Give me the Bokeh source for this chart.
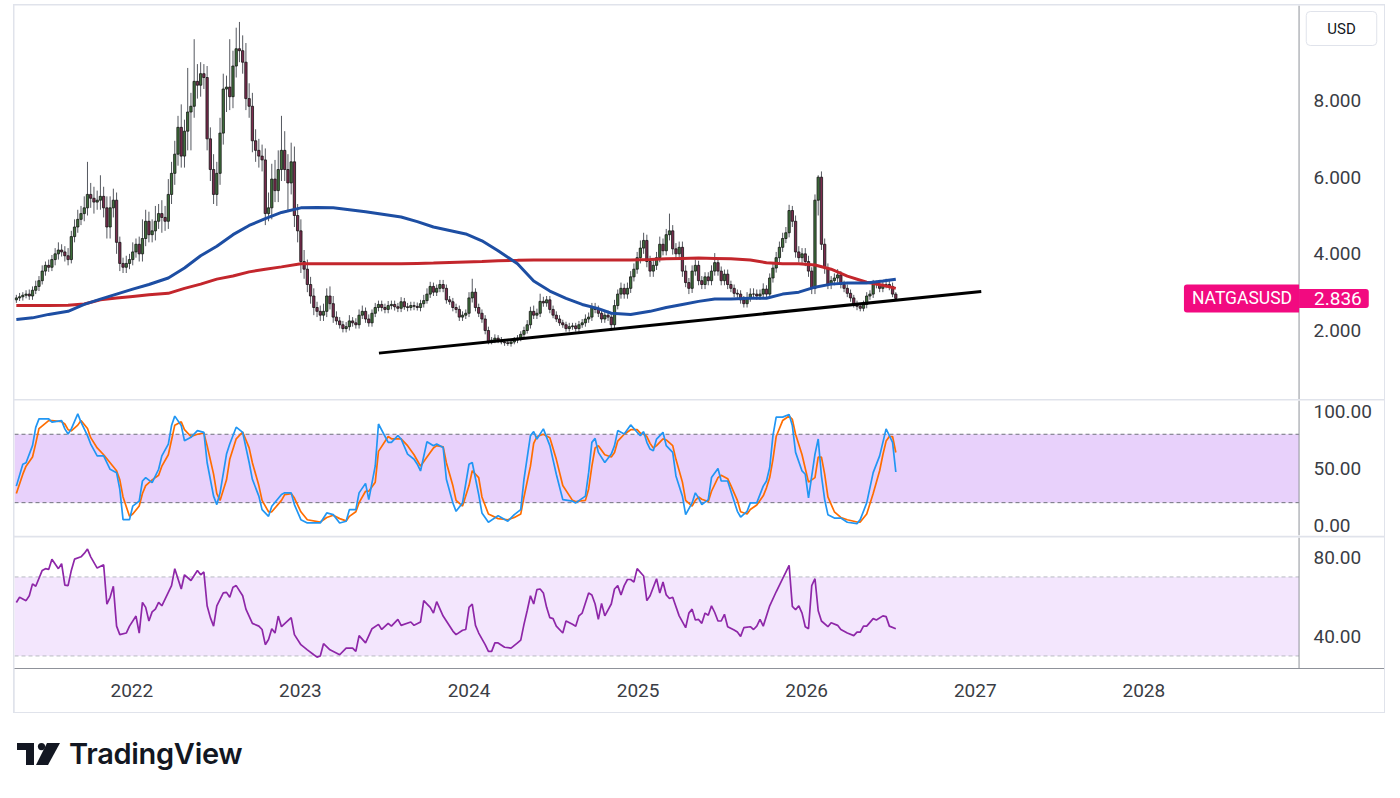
import pandas as pd
from bokeh.plotting import figure
from bokeh.layouts import column
from bokeh.models import (Range1d, FixedTicker, NumeralTickFormatter, DatetimeTickFormatter,
                          Label, Div, ColumnDataSource, BoxAnnotation, Span)
from bokeh.embed import file_html
from bokeh.resources import INLINE

# ---------------- data (weekly bars) ----------------
first_week = "2021-04-26"
first_open = 2.80
close = [
    2.85, 2.88, 2.92, 2.95, 2.90, 3.05, 3.15, 3.30, 3.55, 3.70,
    3.65, 3.85, 4.00, 4.10, 4.05, 3.95, 3.85, 4.45, 4.70, 4.90,
    5.05, 5.20, 5.55, 5.45, 5.35, 5.40, 5.50, 5.20, 4.70, 5.20,
    5.40, 4.30, 3.75, 3.65, 3.75, 3.85, 4.05, 4.25, 4.00, 4.40,
    4.85, 4.50, 4.60, 4.85, 5.05, 4.95, 4.85, 5.55, 6.10, 6.60,
    7.30, 6.55, 7.20, 7.70, 7.85, 8.50, 8.40, 8.70, 8.60, 7.00,
    6.20, 5.55, 6.10, 7.15, 8.30, 8.35, 8.10, 8.90, 9.35, 9.30,
    9.00, 8.05, 7.85, 6.95, 6.70, 6.55, 6.45, 5.05, 5.20, 5.95,
    5.65, 6.20, 6.70, 6.20, 5.85, 6.40, 5.00, 4.60, 3.80, 3.60,
    3.20, 2.90, 2.60, 2.50, 2.40, 2.50, 2.90, 2.70, 2.35, 2.25,
    2.15, 2.05, 2.10, 2.25, 2.20, 2.15, 2.40, 2.50, 2.30, 2.20,
    2.45, 2.60, 2.68, 2.60, 2.55, 2.65, 2.68, 2.62, 2.58, 2.75,
    2.62, 2.60, 2.65, 2.63, 2.60, 2.70, 2.78, 2.95, 3.15, 3.00,
    3.10, 3.20, 3.10, 2.80, 2.75, 2.60, 2.55, 2.35, 2.40, 2.45,
    2.85, 3.00, 2.60, 2.45, 2.30, 2.00, 1.72, 1.75, 1.80, 1.75,
    1.70, 1.68, 1.66, 1.70, 1.75, 1.80, 1.90, 2.00, 2.15, 2.50,
    2.40, 2.45, 2.76, 2.72, 2.80, 2.55, 2.40, 2.30, 2.20, 2.15,
    2.05, 2.10, 2.12, 2.05, 2.15, 2.20, 2.30, 2.35, 2.60, 2.55,
    2.45, 2.30, 2.40, 2.35, 2.15, 2.65, 2.95, 3.10, 2.95, 3.10,
    3.40, 3.60, 3.90, 4.15, 4.35, 3.80, 3.55, 3.70, 3.90, 4.25,
    4.08, 4.50, 4.60, 4.13, 4.00, 4.17, 3.55, 3.25, 3.10, 3.55,
    3.70, 3.30, 3.20, 3.40, 3.30, 3.55, 3.77, 3.55, 3.30, 3.47,
    3.20, 3.10, 2.97, 2.95, 2.80, 2.70, 2.85, 2.95, 2.95, 2.90,
    2.95, 3.08, 2.95, 3.37, 3.63, 3.90, 4.17, 4.40, 4.55, 5.13,
    4.85, 4.05, 3.90, 4.00, 3.80, 3.55, 3.10, 5.40, 6.00, 4.25,
    3.63, 3.20, 3.30, 3.37, 3.45, 3.20, 3.10, 2.97, 2.85, 2.70,
    2.63, 2.58, 2.68, 2.90, 2.95, 3.20, 3.20, 3.10, 3.20, 3.20,
    3.15, 2.95, 2.836,
]
upper_wick = [
    0.08, 0.10, 0.08, 0.10, 0.12, 0.10, 0.15, 0.12, 0.15, 0.10,
    0.15, 0.12, 0.15, 0.20, 0.15, 0.15, 0.20, 0.15, 0.20, 0.25,
    0.20, 0.30, 0.85, 0.30, 0.30, 0.25, 0.55, 0.25, 0.30, 0.30,
    0.30, 0.20, 0.15, 0.15, 0.20, 0.15, 0.25, 0.15, 0.20, 0.50,
    0.30, 0.25, 0.30, 0.40, 0.25, 0.35, 0.30, 0.40, 0.30, 0.35,
    0.30, 0.60, 0.30, 1.15, 0.35, 1.10, 0.45, 0.30, 0.25, 0.30,
    0.30, 0.40, 0.30, 0.40, 0.40, 0.30, 1.25, 0.40, 0.55, 0.70,
    0.40, 0.50, 0.40, 0.35, 0.30, 0.30, 0.30, 0.30, 0.40, 0.40,
    0.50, 0.50, 0.90, 0.50, 0.40, 0.50, 0.40, 0.30, 0.30, 0.30,
    0.25, 0.20, 0.20, 0.15, 0.15, 0.20, 0.20, 0.25, 0.20, 0.15,
    0.10, 0.10, 0.12, 0.15, 0.10, 0.12, 0.15, 0.15, 0.10, 0.12,
    0.10, 0.12, 0.10, 0.10, 0.10, 0.12, 0.10, 0.10, 0.10, 0.12,
    0.10, 0.10, 0.10, 0.10, 0.10, 0.10, 0.15, 0.15, 0.12, 0.10,
    0.10, 0.12, 0.12, 0.10, 0.10, 0.10, 0.10, 0.10, 0.10, 0.10,
    0.15, 0.35, 0.10, 0.10, 0.10, 0.10, 0.10, 0.08, 0.10, 0.08,
    0.08, 0.08, 0.08, 0.08, 0.08, 0.08, 0.08, 0.10, 0.12, 0.12,
    0.15, 0.12, 0.20, 0.12, 0.10, 0.10, 0.10, 0.10, 0.10, 0.08,
    0.08, 0.10, 0.08, 0.08, 0.10, 0.10, 0.12, 0.12, 0.12, 0.12,
    0.10, 0.10, 0.12, 0.12, 0.10, 0.15, 0.12, 0.15, 0.12, 0.15,
    0.15, 0.15, 0.15, 0.20, 0.20, 0.15, 0.15, 0.15, 0.15, 0.20,
    0.15, 0.15, 0.45, 0.15, 0.15, 0.15, 0.15, 0.15, 0.12, 0.15,
    0.15, 0.12, 0.12, 0.12, 0.12, 0.15, 0.25, 0.12, 0.12, 0.12,
    0.12, 0.10, 0.10, 0.10, 0.10, 0.10, 0.15, 0.15, 0.15, 0.12,
    0.12, 0.15, 0.10, 0.12, 0.15, 0.15, 0.15, 0.15, 0.15, 0.15,
    0.12, 0.15, 0.15, 0.15, 0.15, 0.15, 0.10, 0.15, 0.05, 0.15,
    0.15, 0.12, 0.12, 0.12, 0.15, 0.10, 0.10, 0.10, 0.10, 0.08,
    0.08, 0.08, 0.10, 0.10, 0.10, 0.12, 0.10, 0.12, 0.10, 0.15,
    0.12, 0.10, 0.05,
]
lower_wick = [
    0.08, 0.08, 0.10, 0.08, 0.10, 0.10, 0.10, 0.12, 0.10, 0.12,
    0.12, 0.10, 0.15, 0.15, 0.12, 0.15, 0.15, 0.10, 0.15, 0.15,
    0.15, 0.20, 0.20, 0.25, 0.30, 0.20, 0.25, 0.25, 0.30, 0.30,
    0.25, 0.30, 0.20, 0.15, 0.15, 0.15, 0.15, 0.15, 0.20, 0.20,
    0.20, 0.20, 0.20, 0.25, 0.20, 0.40, 0.25, 0.20, 0.25, 0.30,
    0.30, 0.30, 0.30, 0.50, 1.00, 0.30, 0.35, 0.30, 0.30, 0.30,
    0.30, 0.25, 0.30, 0.30, 0.30, 0.60, 0.35, 0.30, 0.30, 0.30,
    0.30, 0.30, 0.30, 0.30, 0.30, 0.30, 0.30, 0.30, 0.20, 0.30,
    0.30, 0.30, 0.30, 0.30, 0.75, 0.30, 0.30, 0.30, 0.30, 0.25,
    0.20, 0.20, 0.20, 0.15, 0.15, 0.15, 0.15, 0.15, 0.15, 0.10,
    0.10, 0.10, 0.10, 0.10, 0.10, 0.10, 0.10, 0.10, 0.10, 0.10,
    0.10, 0.10, 0.10, 0.10, 0.10, 0.10, 0.10, 0.10, 0.10, 0.10,
    0.08, 0.10, 0.08, 0.10, 0.08, 0.10, 0.10, 0.08, 0.10, 0.10,
    0.10, 0.10, 0.10, 0.10, 0.08, 0.10, 0.10, 0.10, 0.10, 0.10,
    0.10, 0.12, 0.10, 0.10, 0.10, 0.10, 0.08, 0.08, 0.08, 0.08,
    0.06, 0.08, 0.06, 0.08, 0.06, 0.08, 0.08, 0.08, 0.08, 0.10,
    0.10, 0.10, 0.10, 0.10, 0.10, 0.10, 0.08, 0.08, 0.08, 0.08,
    0.08, 0.08, 0.08, 0.08, 0.08, 0.08, 0.10, 0.10, 0.10, 0.10,
    0.10, 0.10, 0.10, 0.10, 0.15, 0.10, 0.10, 0.12, 0.12, 0.12,
    0.12, 0.12, 0.12, 0.15, 0.15, 0.15, 0.15, 0.15, 0.12, 0.12,
    0.12, 0.12, 0.15, 0.15, 0.15, 0.12, 0.15, 0.12, 0.15, 0.12,
    0.12, 0.12, 0.12, 0.12, 0.12, 0.12, 0.12, 0.12, 0.12, 0.12,
    0.12, 0.10, 0.10, 0.10, 0.10, 0.10, 0.10, 0.10, 0.10, 0.10,
    0.10, 0.10, 0.10, 0.10, 0.12, 0.12, 0.12, 0.12, 0.12, 0.12,
    0.15, 0.15, 0.12, 0.15, 0.12, 0.15, 0.15, 0.15, 0.40, 0.15,
    0.15, 0.12, 0.12, 0.12, 0.12, 0.10, 0.10, 0.10, 0.10, 0.10,
    0.10, 0.08, 0.08, 0.10, 0.10, 0.10, 0.10, 0.10, 0.10, 0.10,
    0.10, 0.08, 0.05,
]

# moving averages, sampled at bar numbers
ma_bar = [0, 5, 10, 16, 21, 26, 31, 36, 41, 47,
          52, 57, 62, 67, 72, 77, 82, 88, 93, 98,
          108, 119, 124, 129, 139, 144, 149, 155, 160, 165,
          170, 175, 180, 184, 190, 196, 201, 206, 211, 216,
          221, 227, 232, 237, 242, 247, 252, 257, 263, 268, 272]
ma_fast = [2.29, 2.33, 2.42, 2.50, 2.68, 2.82, 2.95, 3.08, 3.20, 3.37,
           3.63, 3.95, 4.20, 4.50, 4.74, 4.92, 5.08, 5.20, 5.21, 5.20,
           5.10, 4.96, 4.84, 4.70, 4.52, 4.34, 4.08, 3.74, 3.29, 3.03,
           2.84, 2.68, 2.57, 2.45, 2.42, 2.50, 2.60, 2.68, 2.76, 2.82,
           2.82, 2.84, 2.84, 2.95, 3.00, 3.13, 3.21, 3.24, 3.24, 3.29, 3.34]
ma_slow = [2.65, 2.65, 2.65, 2.66, 2.69, 2.80, 2.85, 2.89, 2.93, 2.97,
           3.10, 3.21, 3.34, 3.42, 3.53, 3.60, 3.66, 3.74, 3.74, 3.74,
           3.74, 3.74, 3.75, 3.76, 3.79, 3.80, 3.82, 3.83, 3.84, 3.84,
           3.84, 3.84, 3.84, 3.84, 3.84, 3.85, 3.87, 3.88, 3.89, 3.88,
           3.87, 3.84, 3.77, 3.74, 3.74, 3.71, 3.60, 3.42, 3.26, 3.18, 3.10]

trend_dates = ["2023-06-20", "2027-01-14"]
trend_vals = [1.41, 3.02]

stoch_bar = [0, 2, 3, 5, 6, 7, 10, 11, 14, 15,
             16, 17, 19, 20, 22, 23, 25, 27, 29, 31,
             32, 33, 35, 36, 38, 39, 40, 42, 44, 45,
             47, 48, 49, 51, 52, 54, 56, 58, 59, 61,
             62, 63, 65, 66, 68, 70, 72, 73, 75, 76,
             78, 79, 82, 83, 85, 86, 88, 90, 94, 96,
             98, 100, 102, 103, 105, 106, 108, 109, 111, 112,
             115, 116, 118, 119, 121, 123, 124, 125, 127, 129,
             130, 132, 133, 135, 136, 138, 140, 141, 143, 144,
             146, 149, 152, 154, 156, 157, 159, 160, 161, 163,
             165, 167, 169, 172, 173, 176, 177, 178, 179, 180,
             182, 184, 185, 186, 188, 190, 192, 193, 194, 195,
             196, 197, 198, 200, 201, 203, 204, 206, 207, 209,
             210, 211, 212, 214, 215, 217, 218, 220, 221, 223,
             224, 226, 227, 229, 231, 232, 233, 234, 235, 237,
             239, 240, 241, 243, 244, 245, 247, 248, 249, 250,
             251, 253, 255, 257, 260, 261, 263, 265, 267, 268,
             269, 270, 271, 272]
stoch_k = [34.5, 53.7, 55, 70, 86, 93.5, 93.5, 90.6, 92, 84.7,
           80.2, 84.7, 97.9, 90.6, 78.8, 71.4, 61.1, 61, 49.3, 46.3,
           31.6, 5.1, 5.1, 16.9, 21.3, 39, 42, 37.5, 49.3, 61,
           71.4, 87.6, 95.9, 87.6, 74.3, 77.3, 83.2, 81.7, 55.2, 25.7,
           18.3, 28.6, 62.6, 71.4, 86.2, 81.7, 55.2, 40.5, 25.7, 13.9,
           8, 16.9, 27.1, 28.6, 28.6, 18.3, 5.1, 2.2, 2.2, 11,
           9.5, 2.2, 3.7, 13.9, 13.9, 28.6, 36.9, 22.7, 52.2, 89,
           72.9, 72.9, 78.8, 75.8, 62.6, 58.1, 53.7, 47.8, 73.5, 70,
           71.4, 68.4, 40.5, 19.8, 12.4, 19.8, 53.7, 55.2, 27.1, 11,
           2.8, 8.6, 3.7, 9.5, 13.9, 40.5, 78.8, 82.3, 75.8, 84.7,
           70, 44.9, 22.7, 21.3, 19.8, 25.7, 46.3, 72.9, 76.4, 64.1,
           55.2, 62.6, 70, 83.2, 80.2, 88.2, 81.7, 78.8, 82.3, 72.9,
           67, 65.5, 75.8, 81.7, 70, 64.1, 43.4, 25.7, 9.5, 19.8,
           28.6, 24.2, 18.3, 22.7, 42, 49.9, 39, 39, 30.1, 12.4,
           7.4, 12.4, 19.8, 19.8, 34.5, 39, 50.8, 78.8, 95, 95,
           97.3, 87.6, 64.1, 47.8, 44.9, 24.2, 62.6, 75.8, 43.4, 22.7,
           9.5, 6.5, 6.5, 2.8, 1.6, 5.1, 19.8, 46.3, 61, 72.9,
           84.7, 78.8, 72.9, 46.9]
stoch_d = [28, 45, 52, 60, 72, 85, 92, 92, 91, 89,
           84, 83, 88, 92, 85, 77, 68, 62, 55, 48,
           40, 25, 8, 10, 17, 28, 35, 40, 44, 52,
           62, 75, 88, 91, 84, 78, 80, 81, 70, 45,
           28, 22, 40, 58, 76, 82, 68, 55, 35, 22,
           12, 12, 22, 27, 28, 24, 12, 5, 3, 7,
           9, 6, 4, 8, 12, 20, 30, 30, 38, 65,
           78, 76, 76, 76, 70, 62, 57, 52, 60, 68,
           70, 69, 55, 35, 22, 17, 35, 48, 42, 25,
           10, 6, 5, 7, 10, 25, 52, 72, 78, 80,
           77, 58, 35, 22, 21, 22, 32, 52, 68, 70,
           62, 60, 64, 74, 80, 84, 84, 81, 80, 78,
           72, 68, 70, 76, 75, 70, 58, 38, 22, 17,
           22, 25, 23, 21, 30, 42, 44, 41, 35, 22,
           12, 10, 14, 18, 26, 33, 42, 58, 78, 92,
           96, 93, 80, 62, 50, 38, 42, 60, 60, 45,
           25, 12, 7, 5, 3, 3, 10, 28, 48, 62,
           74, 78, 78, 64]

rsi_bar = [0, 1, 3, 4, 5, 6, 8, 9, 10, 11,
           13, 14, 15, 16, 17, 18, 20, 21, 22, 23,
           25, 27, 28, 29, 30, 31, 32, 34, 35, 37,
           38, 39, 40, 41, 42, 43, 44, 45, 47, 48,
           49, 51, 52, 54, 56, 57, 58, 59, 60, 61,
           62, 64, 65, 66, 67, 68, 70, 71, 73, 75,
           76, 77, 78, 79, 80, 81, 82, 85, 86, 88,
           90, 92, 93, 94, 95, 97, 100, 102, 104, 105,
           106, 108, 110, 112, 113, 115, 116, 118, 119, 122,
           123, 125, 126, 128, 129, 130, 132, 133, 135, 136,
           138, 139, 140, 141, 142, 143, 145, 146, 147, 148,
           149, 151, 153, 155, 156, 157, 158, 159, 160, 161,
           162, 163, 164, 165, 166, 167, 169, 170, 172, 173,
           174, 175, 177, 178, 179, 180, 181, 182, 184, 185,
           186, 187, 188, 189, 190, 191, 192, 194, 195, 196,
           198, 199, 200, 201, 202, 203, 205, 207, 208, 209,
           210, 211, 212, 213, 214, 215, 216, 217, 218, 219,
           220, 222, 223, 224, 225, 227, 228, 229, 230, 231,
           233, 235, 237, 238, 239, 240, 241, 242, 243, 244,
           245, 246, 247, 248, 249, 251, 252, 254, 255, 257,
           259, 260, 261, 262, 263, 265, 266, 268, 269, 270,
           272]
rsi_val = [57.1, 59.7, 58, 60.5, 66.5, 65.3, 73.3, 74.2, 73.8, 79,
           74.2, 76.7, 65.9, 65.6, 73.3, 79, 80.2, 81.9, 84.1, 80.2,
           74.5, 76.2, 56.2, 59.7, 65.3, 45.1, 40.8, 41.6, 45.1, 50.2,
           41.6, 57.1, 54.6, 47.7, 52.3, 53.7, 57.1, 55.4, 62.2, 65.6,
           74.2, 63.9, 71.1, 68.2, 73.3, 71.1, 72.5, 55.4, 49.4, 45.1,
           55.4, 61.9, 62.2, 59.7, 64.8, 65.6, 60.5, 53.7, 46.5, 45.1,
           43.4, 35.7, 38.3, 43.8, 41.6, 50.2, 44.8, 49.4, 40.8, 35.7,
           33.1, 30.6, 29.4, 30, 36.2, 33.1, 30.6, 34, 34, 32.3,
           40.3, 36.6, 43.8, 46, 43.4, 46.5, 45.1, 48.5, 45.5, 47.2,
           45.5, 47.2, 58, 54.6, 51.7, 57.5, 50.2, 47.7, 42.6, 40.8,
           43, 43.4, 54.6, 56.3, 45.5, 41.6, 35.7, 32.3, 32.3, 36.6,
           36.6, 34.4, 34, 36.6, 38, 46, 53, 60.5, 56.3, 63.6,
           63.9, 61.9, 54.6, 49.4, 48.9, 45.1, 41.6, 47.7, 46, 45.1,
           50.3, 51.7, 61.9, 60.9, 56.3, 48.5, 56.6, 50.3, 56.3, 63.9,
           65.6, 60.9, 65.6, 68.7, 68.7, 67.4, 74.2, 70.5, 58, 60.5,
           69.1, 61.9, 67.4, 60.9, 59.1, 59.7, 50.3, 44.3, 51.7, 53.7,
           48.2, 48.5, 46.5, 51.7, 50.6, 55.4, 52, 47.7, 47.7, 51.1,
           44.8, 43.1, 42.1, 39.9, 44.3, 44.8, 43.4, 45.1, 48.5, 45.1,
           55.4, 62.5, 69.1, 72.5, 75.9, 55.1, 53.4, 55.4, 51.7, 44.8,
           43.8, 65.6, 69.1, 52.9, 47.7, 44.8, 46.8, 45.5, 43.4, 41.6,
           40.3, 42.1, 42.1, 45.1, 45.1, 48.9, 48.2, 50.3, 49.9, 45.1,
           43.8]

year_ticks = [2022, 2023, 2024, 2025, 2026, 2027, 2028]
price_ticks = [2, 4, 6, 8]
stoch_ticks = [0, 50, 100]
stoch_band = [20, 80]
rsi_ticks = [40, 80]
rsi_band = [30, 70]
symbol = "NATGASUSD"
last_price = 2.836
currency = "USD"

# ---------------- derived ----------------
t0 = pd.Timestamp(first_week)
bars = pd.DatetimeIndex([t0 + pd.Timedelta(weeks=i) for i in range(len(close))])
opens = [first_open] + close[:-1]
highs = [max(o, c) + u for o, c, u in zip(opens, close, upper_wick)]
lows = [min(o, c) - d for o, c, d in zip(opens, close, lower_wick)]
up = [c >= o for o, c in zip(opens, close)]
src = ColumnDataSource(dict(
    t=bars.values, o=opens, c=close, h=highs, l=lows,
    top=[max(o, c) for o, c in zip(opens, close)],
    bot=[min(o, c) for o, c in zip(opens, close)],
    fill=["#3f713c" if u else "#7c2c4f" for u in up],
))

FONT = "Roboto"
AX_COL = "#3a3d45"
SCALE_LINE = "#8f929a"
W = 1370
# the plotting area runs under the price scale (as on TradingView); the scale border
# sits at scale_edge and the axis labels are drawn to its right
view_start = pd.Timestamp("2021-04-22")
view_end = pd.Timestamp("2029-06-05")
scale_edge = pd.Timestamp("2028-12-02")
edge_ms = scale_edge.value // 10**6
xr = Range1d(view_start, view_end)
xticks = [pd.Timestamp(f"{y}-01-01").value // 10**6 for y in year_ticks]


def pane(height, yrange, ticks, fmt, with_x=False, bottom=0):
    p = figure(width=W, height=height, x_range=xr, y_range=yrange,
               x_axis_type="datetime", x_axis_location="below" if with_x else None,
               y_axis_location="right", output_backend="svg", toolbar_location=None,
               min_border_left=0, min_border_right=0, min_border_top=0,
               min_border_bottom=44 if with_x else bottom)
    p.grid.visible = False
    p.outline_line_color = None
    p.background_fill_color = "white"
    p.border_fill_color = "white"
    ax = p.yaxis[0]
    ax.ticker = FixedTicker(ticks=ticks)
    ax.formatter = NumeralTickFormatter(format=fmt)
    ax.major_tick_line_color = None
    ax.minor_tick_line_color = None
    ax.major_tick_out = 0
    ax.major_tick_in = 0
    ax.major_label_standoff = -71
    ax.axis_line_color = None
    ax.major_label_text_font = FONT
    ax.major_label_text_font_size = "19px"
    ax.major_label_text_color = AX_COL
    if with_x:
        xa = p.xaxis[0]
        xa.ticker = FixedTicker(ticks=xticks)
        xa.formatter = DatetimeTickFormatter(years="%Y", months="%Y", days="%Y",
                                             hours="%Y", minutes="%Y", seconds="%Y")
        xa.major_tick_line_color = None
        xa.minor_tick_line_color = None
        xa.major_tick_out = 0
        xa.major_label_standoff = 15
        xa.axis_line_color = SCALE_LINE
        xa.major_label_text_font = FONT
        xa.major_label_text_font_size = "19px"
        xa.major_label_text_color = AX_COL
    p.add_layout(Span(location=edge_ms, dimension="height", line_color=SCALE_LINE, line_width=1))
    return p


def band(p, lo_hi, fill, dash_color):
    p.add_layout(BoxAnnotation(bottom=lo_hi[0], top=lo_hi[1], right=edge_ms, fill_color=fill,
                               fill_alpha=1.0, line_color=None, level="underlay"))
    for v in lo_hi:
        p.line([view_start, scale_edge], [v, v], line_color=dash_color, line_dash="4 3",
               line_width=1)


# ---------------- price pane ----------------
p1 = pane(394, Range1d(0.20, 10.479), price_ticks, "0.000")
p1.segment(x0="t", y0="l", x1="t", y1="h", source=src, line_color="#55585f", line_width=1)
p1.vbar(x="t", width=5 * 86400000, top="top", bottom="bot", source=src,
        fill_color="fill", line_color="#151515", line_width=0.8)
ma_t = bars[ma_bar]
p1.line(ma_t, ma_slow, line_color="#c3262c", line_width=3)
p1.line(ma_t, ma_fast, line_color="#1d4ea3", line_width=3)
p1.line(pd.to_datetime(trend_dates), trend_vals, line_color="#000000", line_width=3)

p1.add_layout(Label(x=edge_ms, y=last_price, x_units="data", y_units="data", text=symbol,
                    anchor="center_right", text_font=FONT, text_font_size="17.5px",
                    text_color="white", background_fill_color="#f20a80",
                    padding=dict(left=8, right=7, top=4, bottom=4),
                    border_radius=dict(top_left=3, top_right=0, bottom_right=0, bottom_left=3)))
p1.add_layout(Label(x=edge_ms, y=last_price, x_units="data", y_units="data",
                    text=f"{last_price:.3f}", anchor="center_left", text_font=FONT,
                    text_font_size="19px", text_color="white", background_fill_color="#f20a80",
                    padding=dict(left=15, right=7, top=3, bottom=3),
                    border_radius=dict(top_left=0, top_right=3, bottom_right=3, bottom_left=0)))
p1.add_layout(Label(x=1327, y=371, x_units="screen", y_units="screen", text=currency,
                    anchor="center", text_font=FONT, text_font_size="15px",
                    text_color="#131722", background_fill_color="white",
                    border_line_color="#e0e3eb", border_line_width=1,
                    padding=dict(left=21, right=21, top=8, bottom=8), border_radius=4))

# ---------------- stochastic pane ----------------
p2 = pane(136, Range1d(-8.8, 109.6), stoch_ticks, "0.00", bottom=1)
band(p2, stoch_band, "#e8d1fb", "#6f727b")
st = bars[stoch_bar]
p2.line(st, stoch_d, line_color="#ff6d00", line_width=1.7)
p2.line(st, stoch_k, line_color="#2196f3", line_width=1.7)

# ---------------- RSI pane ----------------
p3 = pane(175, Range1d(23.65, 89.97), rsi_ticks, "0.00", with_x=True)
band(p3, rsi_band, "#f3e6fd", "#b8bac2")
p3.line(bars[rsi_bar], rsi_val, line_color="#8e27a8", line_width=1.7)

chart = column(p1, p2, p3, spacing=1,
               styles={"background-color": "#e0e3eb", "border": "1px solid #e0e3eb"})

logo_html = (
    '<div style="display:flex;align-items:center;padding-left:0px;">'
    '<svg width="43" height="22" viewBox="0 0 43 22" style="margin-right:9px">'
    '<path d="M0 0 H17 V22 H9 V7 H0 Z" fill="#131722"/>'
    '<circle cx="24.5" cy="3.6" r="3.6" fill="#131722"/>'
    '<path d="M30 0 H43 L31 22 H19 Z" fill="#131722"/>'
    '</svg>'
    '<span style="font-family:Inter, sans-serif;font-weight:600;font-size:29px;'
    'color:#131722;letter-spacing:-0.3px;">TradingView</span></div>'
)
logo = Div(text=logo_html, width=400, height=40, margin=(0, 0, 0, 4))

root = column(chart, logo, spacing=20, margin=(4, 0, 0, 13))

open("out.html", "w").write(file_html(root, INLINE))
